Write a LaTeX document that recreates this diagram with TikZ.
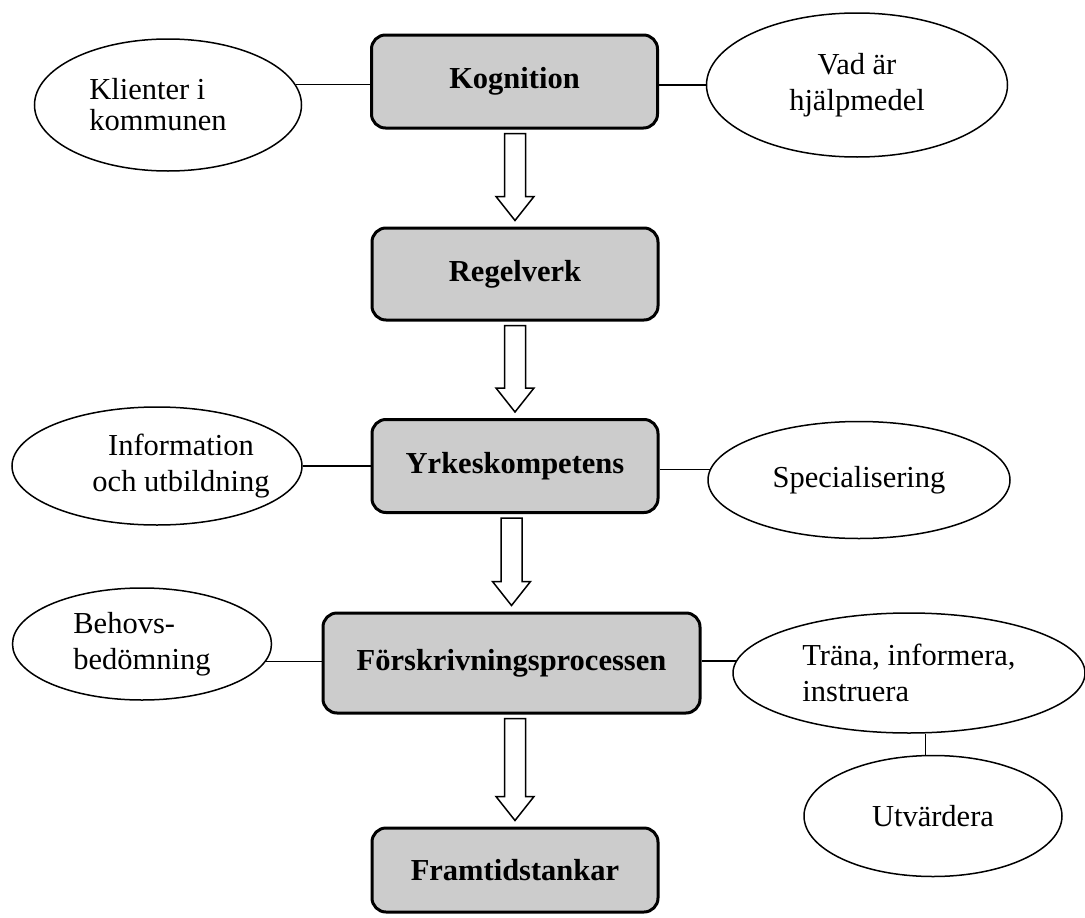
\documentclass[tikz,border=0pt]{standalone}
\usepackage{fontspec}
\setmainfont{Liberation Serif}
\usetikzlibrary{shapes.geometric, calc, positioning}

\newcommand{\flowarrow}[2]{%
  \draw[hollow] ($(#2.north |- #1.south)+(-10.5,4)$) -- ($(#2.north)+(-10.5,-30)$)
    -- ++(-8.5,0) -- ($(#2.north)+(0,-6)$) -- ($(#2.north)+(19,-30)$)
    -- ++(-8.5,0) -- ($(#2.north |- #1.south)+(10.5,4)$) -- cycle;}

\begin{document}
\begin{tikzpicture}[x=1pt,y=-1pt,
        every node/.style={font=\fontsize{30.5}{36}\selectfont},
        stage/.style={draw,line width=3pt,rounded corners=14pt,fill=black!20,
            inner sep=0pt,font=\fontsize{30.5}{36}\selectfont\bfseries},
        topic/.style={draw,ellipse,line width=1.5pt,fill=white,inner sep=0pt,align=center},
        link/.style={line width=1.5pt},
        hollow/.style={line width=1.5pt,fill=white,line join=miter}]

        \useasboundingbox (0,0) rectangle (1085,918);

        \node[stage,minimum width=286pt,minimum height=93pt] (kog) at (514.5,81.5) {Kognition};
        \node[stage,minimum width=286pt,minimum height=92pt] (regel) at (515,274) {Regelverk};
        \node[stage,minimum width=286pt,minimum height=93pt] (yrkes) at (515,466) {Yrkeskompetens};
        \node[stage,minimum width=377pt,minimum height=100pt] (forskr) at (511.5,663) {Förskrivningsprocessen};
        \node[stage,minimum width=286pt,minimum height=84pt] (framtid) at (515,870) {Framtidstankar};

        \node[topic,minimum width=267pt,minimum height=132pt,
            label={[align=left,xshift=-10pt,font=\fontsize{30.5}{31}\selectfont]center:Klienter i\\kommunen}] (klienter) at (168,105) {};
        \node[topic,minimum width=301pt,minimum height=144pt] (vad) at (857,85) {Vad är\\hjälpmedel};
        \node[topic,minimum width=290pt,minimum height=118pt,
            label={[align=center,xshift=24pt]center:Information\\och utbildning}] (info) at (157,466) {};
        \node[topic,minimum width=302pt,minimum height=117pt] (special) at (859,480) {Specialisering};
        \node[topic,align=left,minimum width=259pt,minimum height=112pt] (behov) at (142,644) {Behovs-\\bedömning};
        \node[topic,align=left,minimum width=352pt,minimum height=120pt] (trana) at (909,673) {Träna, informera,\\instruera};
        \node[topic,minimum width=258pt,minimum height=121pt] (utv) at (933,816) {Utvärdera};

        % side links
        \draw[link] (klienter.9) -- (klienter.9 -| kog.west);
        \draw[link] (vad.west) -- (vad.west -| kog.east);
        \draw[link] (info.east) -- (info.east -| yrkes.west);
        \draw[link] (special.176) -- (special.176 -| yrkes.east);
        \draw[link] (behov.-8) -- (behov.-8 -| forskr.west);
        \draw[link] (trana.176) -- (trana.176 -| forskr.east);
        \draw[link] (utv.97) -- (utv.97 |- trana.south);

        % flow
        \flowarrow{kog}{regel}
        \flowarrow{regel}{yrkes}
        \flowarrow{yrkes}{forskr}
        \flowarrow{forskr}{framtid}
    \end{tikzpicture}
\end{document}
